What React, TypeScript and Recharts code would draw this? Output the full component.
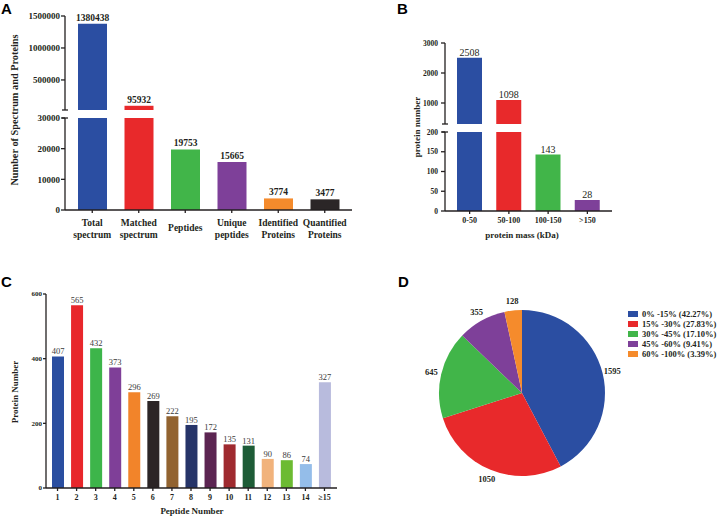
import { BarChart, Bar, XAxis, YAxis, LabelList, PieChart, Pie, Cell, Legend } from 'recharts'

const serif = "'Liberation Serif', 'Times New Roman', serif"
const sans = "'Liberation Sans', Arial, sans-serif"
const ink = '#231f20'

// A: spectrum and proteins (broken axis)
const spectrumCats = ['Total\nspectrum', 'Matched\nspectrum', 'Peptides', 'Unique\npeptides', 'Identified\nProteins', 'Quantified\nProteins']
const spectrumValues = [1380438, 95932, 19753, 15665, 3774, 3477]
const spectrumColors = ['#2b4ea2', '#e8292b', '#41b549', '#7e4099', '#f58b2c', '#2b2627']
const spectrumBreak = 30000
const spectrumTop = 1500000
const spectrumUpperTicks = [500000, 1000000, 1500000]
const spectrumLowerTicks = [0, 10000, 20000, 30000]

// B: protein mass (broken axis)
const massCats = ['0-50', '50-100', '100-150', '>150']
const massValues = [2508, 1098, 143, 28]
const massColors = ['#2b4ea2', '#e8292b', '#41b549', '#7e4099']
const massLowTop = 200
const massHighBottom = 300
const massTop = 3000
const massUpperTicks = [1000, 2000, 3000]
const massLowerTicks = [0, 50, 100, 150, 200]

// C: peptide number distribution
const peptideCats = ['1', '2', '3', '4', '5', '6', '7', '8', '9', '10', '11', '12', '13', '14', '≥15']
const peptideValues = [407, 565, 432, 373, 296, 269, 222, 195, 172, 135, 131, 90, 86, 74, 327]
const peptideColors = ['#2a4ea0', '#e8272b', '#3db54a', '#7f3f98', '#f2842a', '#2c2526', '#926330', '#263468', '#5c2552', '#9f2a2f', '#1e5c37', '#f1b37c', '#6cbb32', '#94bde9', '#b8bbdd']
const peptideTicks = [0, 200, 400, 600]

// D: coverage pie
const coverageNames = ['0% -15% (42.27%)', '15% -30% (27.83%)', '30% -45% (17.10%)', '45% -60% (9.41%)', '60% -100% (3.39%)']
const coverageValues = [1595, 1050, 645, 355, 128]
const coverageColors = ['#2b4ea2', '#e8292b', '#41b549', '#7e4099', '#f58b2c']

const spectrumData = spectrumCats.map((name, i) => {
  const v = spectrumValues[i]
  return {
    name,
    high: v > spectrumBreak ? v : null,
    highLabel: v > spectrumBreak ? v : undefined,
    low: Math.min(v, spectrumBreak),
    lowLabel: v <= spectrumBreak ? v : undefined,
  }
})

const massData = massCats.map((name, i) => {
  const v = massValues[i]
  return {
    name,
    high: v > massHighBottom ? v : null,
    highLabel: v > massHighBottom ? v : undefined,
    low: Math.min(v, massLowTop),
    lowLabel: v <= massLowTop ? v : undefined,
  }
})

const peptideData = peptideCats.map((name, i) => ({ name, value: peptideValues[i] }))

const coverageData = coverageNames.map((name, i) => ({ name, value: coverageValues[i], fill: coverageColors[i] }))

const axisLine = { stroke: ink, strokeWidth: 1.3 }

const SpectrumTick = (props: any) => {
  const { x, y, payload } = props
  const lines = String(payload.value).split('\n')
  return (
    <text x={x} y={y} textAnchor='middle' fontFamily={serif} fontWeight='bold' fontSize={9.5} fill={ink}>
      {lines.map((l, i) => (
        <tspan key={i} x={x} dy={i === 0 ? (lines.length === 1 ? 16 : 11) : 12}>{l}</tspan>
      ))}
    </text>
  )
}

const RADIAN = Math.PI / 180
const renderCoverageLabel = (props: any) => {
  const { cx, cy, midAngle, outerRadius, value } = props
  const r = outerRadius + 10
  const x = cx + r * Math.cos(-midAngle * RADIAN)
  const y = cy + r * Math.sin(-midAngle * RADIAN)
  return (
    <text x={x} y={y} textAnchor='middle' dominantBaseline='central' fontFamily={serif} fontWeight='bold' fontSize={8.5} fill={ink}>
      {value}
    </text>
  )
}

const renderCoverageLegend = (props: any) => (
  <ul style={{ listStyle: 'none', margin: 0, padding: 0 }}>
    {(props.payload || []).map((entry: any, i: number) => (
      <li key={i} style={{ display: 'flex', alignItems: 'center', height: 10, fontFamily: serif, fontWeight: 'bold', fontSize: 8.5, color: ink, whiteSpace: 'nowrap' }}>
        <span style={{ display: 'inline-block', width: 10, height: 6, background: entry.color, marginRight: 4 }} />
        {entry.value}
      </li>
    ))}
  </ul>
)

const box = (left: number, top: number): React.CSSProperties => ({ position: 'absolute', left, top })

const boldLabel = { fontFamily: serif, fontWeight: 'bold', fontSize: 9.5 }
const plainLabel = { fontFamily: serif, fontSize: 10 }

export default function App() {
  return (
    <div style={{ position: 'relative', width: 720, height: 517, background: '#fff', overflow: 'hidden' }}>
      <style>{'body{margin:0}'}</style>

      {/* A upper */}
      <div style={box(0, 0)}>
        <BarChart width={360} height={112} data={spectrumData} margin={{ top: 16, right: 8, left: 0, bottom: 2 }}>
          <XAxis dataKey='name' hide padding={{ left: 4, right: 4 }} />
          <YAxis type='number' width={65} domain={[spectrumBreak, spectrumTop]} ticks={spectrumUpperTicks} interval={0} allowDataOverflow
            axisLine={axisLine} tickLine={axisLine} tickSize={4} tickMargin={1}
            tick={{ fontFamily: serif, fontWeight: 'bold', fontSize: 9, fill: ink }} />
          <Bar dataKey='high' barSize={29} isAnimationActive={false}>
            {spectrumColors.map((c, i) => <Cell key={i} fill={c} />)}
            <LabelList dataKey='highLabel' position='top' offset={3} fill={ink} style={{ ...boldLabel, fill: ink }} />
          </Bar>
        </BarChart>
      </div>

      {/* A lower */}
      <div style={box(0, 112)}>
        <BarChart width={360} height={135} data={spectrumData} margin={{ top: 6, right: 8, left: 0, bottom: 0 }}>
          <XAxis dataKey='name' height={37} padding={{ left: 4, right: 4 }} interval={0} axisLine={axisLine} tickLine={axisLine} tickSize={3} tick={SpectrumTick} />
          <YAxis type='number' width={65} domain={[0, spectrumBreak]} ticks={spectrumLowerTicks} interval={0} allowDataOverflow
            axisLine={axisLine} tickLine={axisLine} tickSize={4} tickMargin={1}
            tick={{ fontFamily: serif, fontWeight: 'bold', fontSize: 9, fill: ink }} />
          <Bar dataKey='low' barSize={29} isAnimationActive={false}>
            {spectrumColors.map((c, i) => <Cell key={i} fill={c} />)}
            <LabelList dataKey='lowLabel' position='top' offset={3} fill={ink} style={{ ...boldLabel, fill: ink }} />
          </Bar>
        </BarChart>
      </div>

      {/* B upper */}
      <div style={box(360, 0)}>
        <BarChart width={360} height={126} data={massData} margin={{ top: 43, right: 108, left: 0, bottom: 2 }}>
          <XAxis dataKey='name' hide padding={{ left: 5, right: 5 }} />
          <YAxis type='number' width={85} domain={[massHighBottom, massTop]} ticks={massUpperTicks} interval={0} allowDataOverflow
            axisLine={axisLine} tickLine={axisLine} tickSize={4} tickMargin={3}
            tick={{ fontFamily: serif, fontWeight: 'bold', fontSize: 7.5, fill: ink }} />
          <Bar dataKey='high' barSize={25} isAnimationActive={false}>
            {massColors.map((c, i) => <Cell key={i} fill={c} />)}
            <LabelList dataKey='highLabel' position='top' offset={2} fill={ink} style={{ ...plainLabel, fill: ink }} />
          </Bar>
        </BarChart>
      </div>

      {/* B lower */}
      <div style={box(360, 126)}>
        <BarChart width={360} height={120} data={massData} margin={{ top: 6, right: 108, left: 0, bottom: 0 }}>
          <XAxis dataKey='name' height={35} padding={{ left: 5, right: 5 }} interval={0} axisLine={axisLine} tickLine={axisLine} tickSize={3} tickMargin={3}
            tick={{ fontFamily: serif, fontWeight: 'bold', fontSize: 8, fill: ink }} />
          <YAxis type='number' width={85} domain={[0, massLowTop]} ticks={massLowerTicks} interval={0} allowDataOverflow
            axisLine={axisLine} tickLine={axisLine} tickSize={4} tickMargin={3}
            tick={{ fontFamily: serif, fontWeight: 'bold', fontSize: 7.5, fill: ink }} />
          <Bar dataKey='low' barSize={25} isAnimationActive={false}>
            {massColors.map((c, i) => <Cell key={i} fill={c} />)}
            <LabelList dataKey='lowLabel' position='top' offset={2} fill={ink} style={{ ...plainLabel, fill: ink }} />
          </Bar>
        </BarChart>
      </div>

      {/* C */}
      <div style={box(0, 270)}>
        <BarChart width={400} height={247} data={peptideData} margin={{ top: 24, right: 63, left: 0, bottom: 0 }}>
          <XAxis dataKey='name' height={29} padding={{ left: 2, right: 3 }} interval={0} axisLine={axisLine} tickLine={axisLine} tickSize={3} tickMargin={3}
            tick={{ fontFamily: serif, fontWeight: 'bold', fontSize: 8, fill: ink }} />
          <YAxis type='number' width={46} domain={[0, 600]} ticks={peptideTicks} interval={0}
            axisLine={axisLine} tickLine={axisLine} tickSize={3} tickMargin={1}
            tick={{ fontFamily: serif, fontWeight: 'bold', fontSize: 7, fill: ink }} />
          <Bar dataKey='value' barSize={12} isAnimationActive={false}>
            {peptideColors.map((c, i) => <Cell key={i} fill={c} />)}
            <LabelList dataKey='value' position='top' offset={2} fill='#3a3a3a' style={{ fontFamily: serif, fontSize: 8.5, fill: '#3a3a3a' }} />
          </Bar>
        </BarChart>
      </div>

      {/* D */}
      <div style={box(400, 270)}>
        <PieChart width={320} height={247} margin={{ top: 0, right: 0, left: 0, bottom: 0 }}>
          <Pie data={coverageData} dataKey='value' nameKey='name' cx={122} cy={123} outerRadius={83} startAngle={90} endAngle={-270}
            stroke='none' label={renderCoverageLabel} labelLine={false} isAnimationActive={false}>
            {coverageColors.map((c, i) => <Cell key={i} fill={c} />)}
          </Pie>
          <Legend layout='vertical' align='right' verticalAlign='top' content={renderCoverageLegend}
            wrapperStyle={{ left: 228, top: 39, width: 'auto', right: 'auto' }} />
        </PieChart>
      </div>

      {/* panel letters, axis titles, axis break caps */}
      <svg width={720} height={517} style={{ position: 'absolute', left: 0, top: 0, pointerEvents: 'none' }}>
        <g fontFamily={sans} fontWeight='bold' fontSize={15} fill='#000'>
          <text x={1} y={14}>A</text>
          <text x={397} y={14}>B</text>
          <text x={1} y={287}>C</text>
          <text x={398} y={287}>D</text>
        </g>
        <g fontFamily={serif} fontWeight='bold' fill={ink} textAnchor='middle'>
          <text transform='translate(18,110) rotate(-90)' fontSize={10.3}>Number of Spectrum and Proteins</text>
          <text transform='translate(420,127) rotate(-90)' fontSize={9}>protein number</text>
          <text x={522} y={238} fontSize={9}>protein mass (kDa)</text>
          <text transform='translate(18,392) rotate(-90)' fontSize={9}>Protein Number</text>
          <text x={192} y={514} fontSize={9}>Peptide Number</text>
        </g>
        <g stroke={ink} strokeWidth={1.3}>
          <line x1={62} x2={68} y1={110} y2={110} />
          <line x1={62} x2={68} y1={118} y2={118} />
          <line x1={442} x2={448} y1={124} y2={124} />
          <line x1={442} x2={448} y1={132} y2={132} />
        </g>
      </svg>
    </div>
  )
}
